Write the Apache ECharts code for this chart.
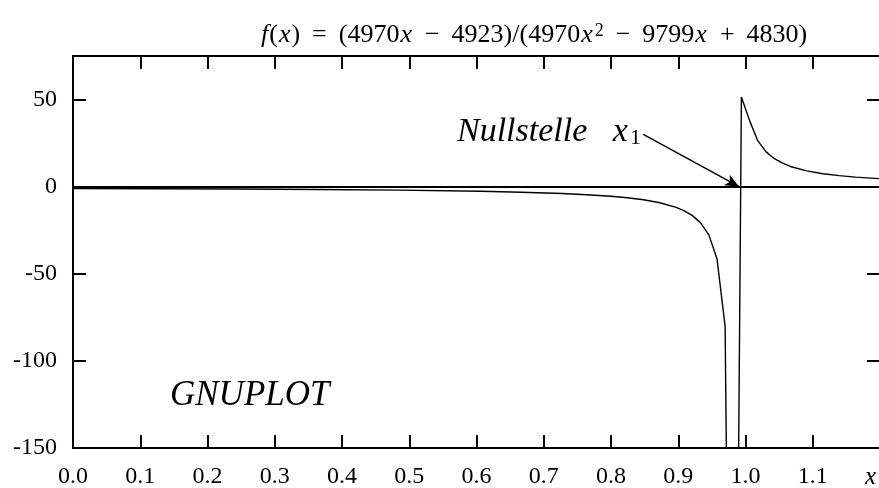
<!DOCTYPE html>
<html>
<head>
<meta charset="utf-8">
<script src="https://cdn.jsdelivr.net/npm/echarts@6/dist/echarts.min.js"></script>
<style>html,body{margin:0;padding:0;background:#fff}#c{width:879px;height:488px}</style>
</head>
<body>
<div id="c"></div>
<script>
const xValues = [0, 0.1212, 0.2424, 0.3636, 0.4848, 0.6061, 0.6667, 0.7273, 0.7636, 0.8, 0.8242, 0.8485, 0.8727, 0.8970, 0.9091, 0.9212, 0.9333, 0.9455, 0.9576, 0.9697, 0.9818, 0.9939, 1.0061, 1.0182, 1.0303, 1.0424, 1.0545, 1.0667, 1.0909, 1.1152, 1.1394, 1.1636, 1.2];
const yValues = [-1.02, -1.16, -1.35, -1.62, -2.01, -2.67, -3.18, -3.94, -4.60, -5.52, -6.37, -7.53, -9.21, -11.85, -13.84, -16.61, -20.77, -27.67, -41.33, -80.2, -547, 51.5, 37.9, 26.4, 20.1, 16.2, 13.6, 11.6, 9.09, 7.45, 6.31, 5.47, 4.57];
const xTickLabels = ['0.0','0.1','0.2','0.3','0.4','0.5','0.6','0.7','0.8','0.9','1.0','1.1','x'];
const yTickLabels = ['-150','-100','-50','0','50'];
const arrowFrom = [0.848, 30];
const arrowTo = [0.9905, 0];

const FONT = 'Liberation Serif';
const chart = echarts.init(document.getElementById('c'), null, {renderer: 'canvas'});
const frame = {color: '#000', width: 2};
const tick = {inside: true, length: 13, lineStyle: {color: '#000', width: 2}};
const TS = 26;

const option = {
  animation: false,
  backgroundColor: '#fff',
  title: {
    text: '{i|f}({i|x}){o|=}(4970{i|x}{o|−}4923)/(4970{i|x}{sup|2}{o|−}9799{i|x}{o|+}4830)',
    left: 255, top: 17,
    textStyle: {
      fontFamily: FONT, fontSize: TS, color: '#000', fontWeight: 'normal',
      rich: {
        i: {fontFamily: FONT, fontSize: TS, fontStyle: 'italic', color: '#000', padding: [0, 1, 0, 1]},
        o: {fontFamily: FONT, fontSize: TS, color: '#000', padding: [0, 12, 0, 12]},
        sup: {fontFamily: FONT, fontSize: 18, color: '#000', verticalAlign: 'top', padding: [0, 0, 8, 1]}
      }
    }
  },
  grid: {left: 73, width: 807, top: 56, height: 392, show: false, outerBoundsMode: 'none', containLabel: false},
  xAxis: [{
    type: 'value', min: 0, max: 1.2, interval: 0.1, position: 'bottom',
    axisLine: {show: true, onZero: false, lineStyle: frame}, axisTick: tick, splitLine: {show: false},
    axisLabel: {
      margin: 17, color: '#000', fontFamily: FONT, fontSize: 24,
      formatter: function (v) { const s = xTickLabels[Math.round(v * 10)]; return s === 'x' ? '{i|x}' : s; },
      rich: {i: {fontFamily: FONT, fontSize: 25, fontStyle: 'italic', color: '#000', padding: [0, 19, 0, 0]}}
    }
  }, {
    type: 'value', min: 0, max: 1.2, interval: 0.1, position: 'top',
    axisLine: {show: true, onZero: false, lineStyle: frame}, axisTick: tick, splitLine: {show: false},
    axisLabel: {show: false}
  }],
  yAxis: [{
    type: 'value', min: -150, max: 75, interval: 50, position: 'left',
    axisLine: {show: true, onZero: false, lineStyle: frame}, axisTick: tick, splitLine: {show: false},
    axisLabel: {
      margin: 16, color: '#000', fontFamily: FONT, fontSize: 24,
      formatter: function (v) { const k = Math.round((v + 150) / 50); return (v % 50 === 0 && k >= 0 && k < yTickLabels.length) ? yTickLabels[k] : ''; }
    }
  }, {
    type: 'value', min: -150, max: 75, interval: 50, position: 'right',
    axisLine: {show: true, onZero: false, lineStyle: frame}, axisTick: tick, splitLine: {show: false},
    axisLabel: {show: false}
  }],
  graphic: [
    {type: 'text', left: 170, top: 378, style: {text: 'GNUPLOT', fontFamily: FONT, fontSize: 35, fontStyle: 'italic', fill: '#000'}},
    {type: 'text', left: 457, top: 115, style: {
      text: '{t|Nullstelle }{x|x}{s|1}', fill: '#000',
      rich: {
        t: {fontFamily: FONT, fontSize: 34, fontStyle: 'italic', fill: '#000'},
        x: {fontFamily: FONT, fontSize: 34, fontStyle: 'italic', fill: '#000', padding: [0, 0, 0, 17]},
        s: {fontFamily: FONT, fontSize: 22, fill: '#000', verticalAlign: 'bottom', padding: [10, 0, 0, 2]}
      }
    }}
  ],
  series: [{
    type: 'line', xAxisIndex: 0, yAxisIndex: 0,
    data: xValues.map((x, i) => [x, yValues[i]]),
    showSymbol: false, symbol: 'none', clip: true,
    lineStyle: {color: '#000', width: 1.4},
    markLine: {
      silent: true, animation: false, symbol: ['none', 'none'],
      label: {show: false},
      lineStyle: {color: '#000', width: 2, type: 'solid'},
      data: [
        {yAxis: 0},
        [{coord: arrowFrom, symbol: 'none', lineStyle: {width: 1.5}}, {coord: arrowTo, symbol: 'arrow', symbolSize: [9, 14]}]
      ]
    }
  }]
};
chart.setOption(option);
</script>
</body>
</html>
